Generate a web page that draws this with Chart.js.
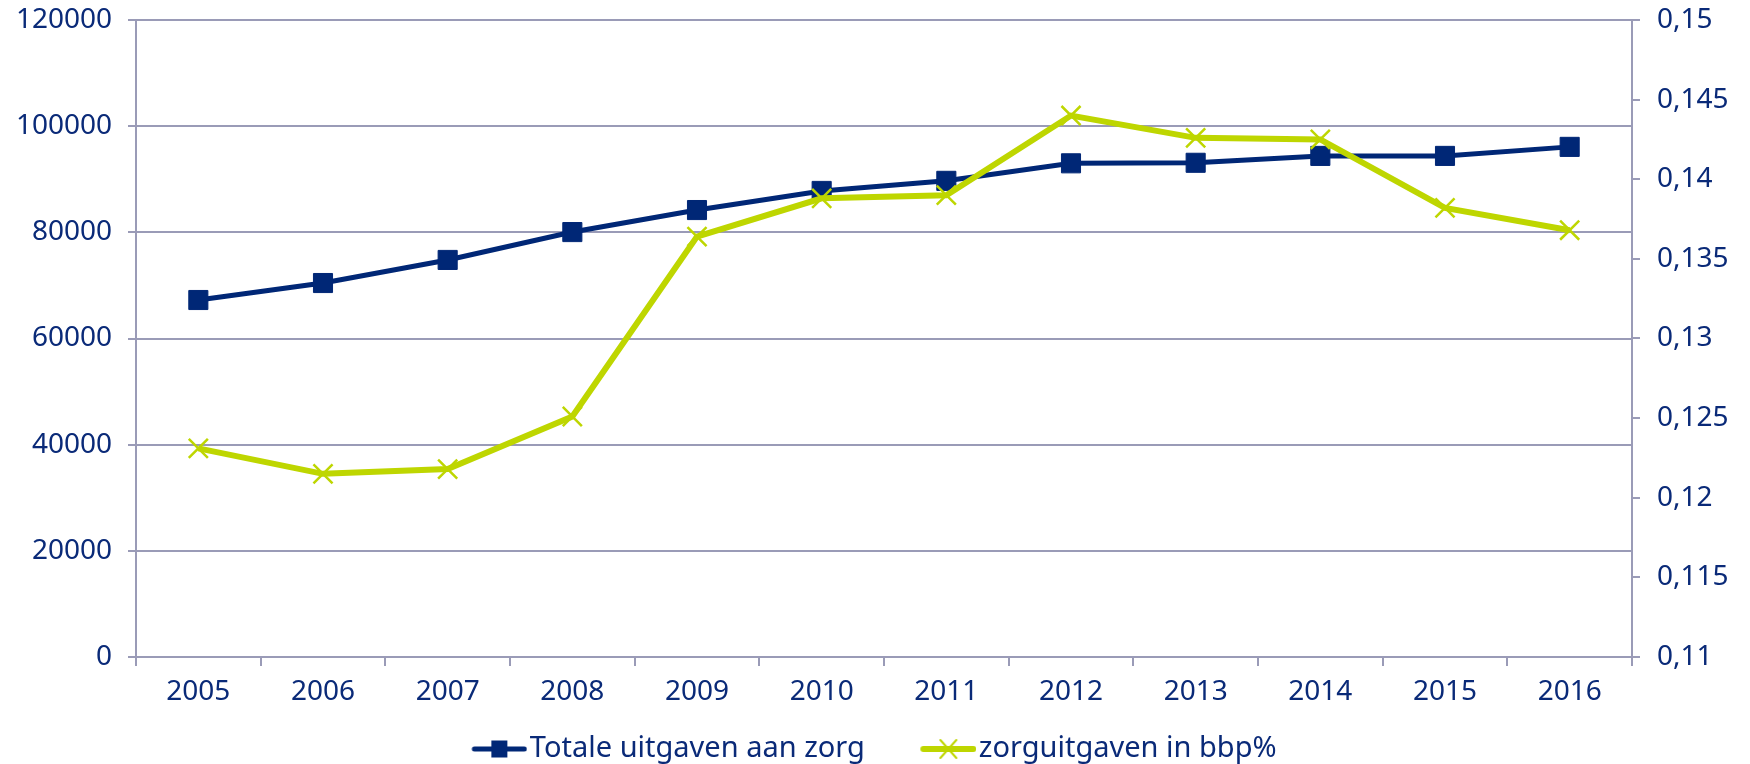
<!DOCTYPE html>
<html>
<head>
<meta charset="utf-8">
<script src="https://cdn.jsdelivr.net/npm/chart.js@4"></script>
<style>
  html, body { margin: 0; padding: 0; background: #fff; }
  canvas { display: block; }
</style>
</head>
<body>
<canvas id="zorgChart" width="1750" height="764"></canvas>
<script>
// data
const years = ['2005', '2006', '2007', '2008', '2009', '2010', '2011', '2012', '2013', '2014', '2015', '2016'];
const totaleUitgaven = [67250, 70450, 74800, 80050, 84200, 87800, 89700, 93000, 93100, 94400, 94400, 96100];
const bbpAandeel = [0.1231, 0.1215, 0.1218, 0.1251, 0.1364, 0.1388, 0.1390, 0.1440, 0.1426, 0.1425, 0.1382, 0.1368];
const seriesNames = ['Totale uitgaven aan zorg', 'zorguitgaven in bbp%'];

const navy = '#002776';
const lime = '#bed600';
const gridColor = '#9a9bb7';
const textColor = '#0a2a78';

Chart.defaults.font.family = '"Noto Sans", "Open Sans", sans-serif';
Chart.defaults.font.size = 28;
Chart.defaults.color = textColor;

// line + marker pictures for the legend (line sits right of the image centre)
function legendSymbol(color, lineW, marker) {
  const c = document.createElement('canvas');
  c.width = 96; c.height = 24;
  const g = c.getContext('2d');
  g.strokeStyle = color;
  g.lineCap = 'round';
  g.lineWidth = lineW;
  g.beginPath(); g.moveTo(43, 12); g.lineTo(93, 12); g.stroke();
  if (marker === 'rect') {
    g.fillStyle = color;
    g.fillRect(60, 3.5, 16, 17);
  } else {
    g.lineWidth = 2;
    g.beginPath();
    g.moveTo(60, 3); g.lineTo(76, 21);
    g.moveTo(76, 3); g.lineTo(60, 21);
    g.stroke();
  }
  return c;
}
const symbols = [legendSymbol(navy, 5, 'rect'), legendSymbol(lime, 6, 'cross')];

const ctx = document.getElementById('zorgChart').getContext('2d');
const zorgChart = new Chart(ctx, {
  type: 'line',
  data: {
    labels: years,
    datasets: [{
      label: seriesNames[0],
      data: totaleUitgaven,
      yAxisID: 'y',
      order: 1,
      borderColor: navy,
      backgroundColor: navy,
      borderWidth: 5,
      pointStyle: 'rect',
      pointRadius: 13.5,
      pointHoverRadius: 13.5,
      pointBorderWidth: 1,
      pointBorderColor: navy,
      pointBackgroundColor: navy,
      tension: 0
    }, {
      label: seriesNames[1],
      data: bbpAandeel,
      yAxisID: 'y1',
      order: 0,
      borderColor: lime,
      backgroundColor: lime,
      borderWidth: 6,
      pointStyle: 'crossRot',
      pointRadius: 13.5,
      pointHoverRadius: 13.5,
      pointBorderWidth: 2.5,
      pointBorderColor: lime,
      tension: 0
    }]
  },
  options: {
    responsive: false,
    animation: false,
    events: [],
    layout: { padding: { top: 20, left: -30, right: 0, bottom: -9.5 } },
    plugins: {
      tooltip: { enabled: false },
      legend: {
        position: 'bottom',
        labels: {
          usePointStyle: true,
          pointStyleWidth: 72,
          padding: 27.5,
          color: textColor,
          font: { size: 29 },
          generateLabels: () => seriesNames.map((name, i) => ({
            text: name,
            pointStyle: symbols[i],
            fillStyle: 'transparent',
            strokeStyle: 'transparent',
            lineWidth: 0,
            hidden: false,
            datasetIndex: i,
            fontColor: textColor
          }))
        }
      }
    },
    scales: {
      x: {
        offset: true,
        grid: { offset: true, drawOnChartArea: false, color: gridColor, lineWidth: 2, tickLength: 9 },
        border: { color: gridColor, width: 2 },
        ticks: { padding: 9, maxRotation: 0, autoSkip: false },
        afterFit: s => { s.height = 50; }
      },
      y: {
        position: 'left',
        min: 0,
        max: 120000,
        ticks: { stepSize: 20000, padding: 16, font: { size: 28, lineHeight: 0.2 }, callback: v => String(v) },
        grid: { color: gridColor, lineWidth: 2, tickLength: 8 },
        border: { color: gridColor, width: 2 },
        afterFit: s => { s.width = 166; }
      },
      y1: {
        position: 'right',
        min: 0.11,
        max: 0.15,
        ticks: { stepSize: 0.005, padding: 17, font: { size: 28, lineHeight: 0.2 }, callback: v => String(+v.toFixed(3)).replace('.', ',') },
        grid: { drawOnChartArea: false, color: gridColor, lineWidth: 2, tickLength: 8 },
        border: { color: gridColor, width: 2 },
        afterFit: s => { s.width = 118; }
      }
    }
  }
});
</script>
</body>
</html>
